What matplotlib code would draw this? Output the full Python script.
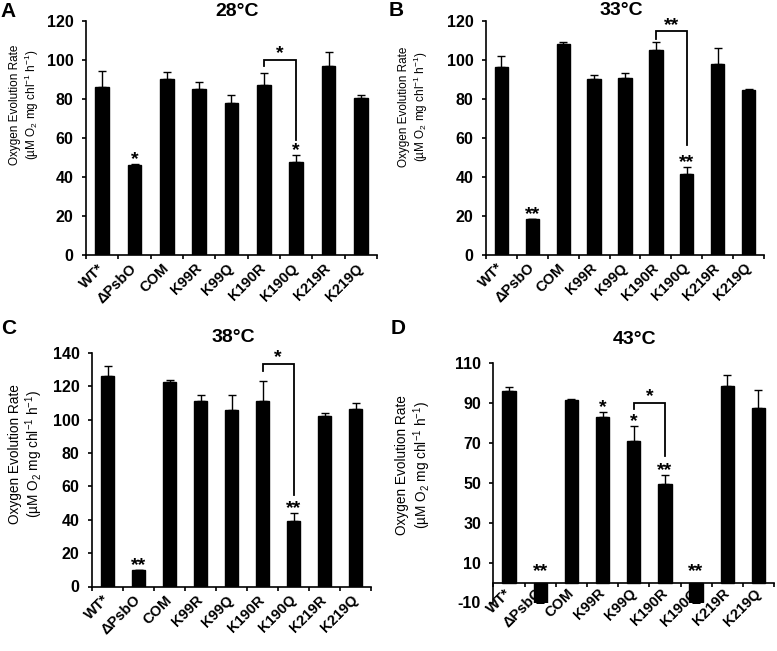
import matplotlib
matplotlib.use('Agg')
import matplotlib.pyplot as plt
import numpy as np

plt.rcParams['font.family'] = ['Liberation Sans', 'DejaVu Sans']
plt.rcParams['mathtext.fontset'] = 'custom'
plt.rcParams['mathtext.rm'] = 'Liberation Sans'
plt.rcParams['mathtext.it'] = 'Liberation Sans:italic'
plt.rcParams['mathtext.bf'] = 'Liberation Sans:bold'
plt.rcParams['axes.unicode_minus'] = False

# ---------------- data ----------------
categories = ['WT*', 'ΔPsbO', 'COM', 'K99R', 'K99Q', 'K190R', 'K190Q', 'K219R', 'K219Q']

titles = ['28°C', '33°C', '38°C', '43°C']
letters = ['A', 'B', 'C', 'D']

means_28 = [86.2, 46.1, 90.5, 85.0, 78.2, 87.1, 47.6, 97.0, 80.6]
err_28 = [8.2, 0.4, 3.4, 3.6, 3.7, 6.4, 3.8, 7.3, 1.3]
stars_28 = ['', '*', '', '', '', '', '*', '', '']
bracket_28 = (5, 6, 100.2, 96.8, 58.9, '*')

means_33 = [96.4, 18.0, 108.4, 90.4, 90.6, 104.9, 41.6, 98.1, 84.4]
err_33 = [5.5, 0.3, 0.8, 2.0, 2.6, 4.3, 3.4, 8.2, 0.8]
stars_33 = ['', '**', '', '', '', '', '**', '', '']
bracket_33 = (5, 6, 114.7, 110.9, 56.1, '**')

means_38 = [126.5, 9.7, 122.5, 111.5, 105.8, 111.5, 39.5, 102.2, 106.2]
err_38 = [5.7, 0.3, 1.4, 3.6, 9.3, 11.6, 4.4, 2.0, 3.6]
stars_38 = ['', '**', '', '', '', '', '**', '', '']
bracket_38 = (5, 6, 133.6, 129.5, 54.8, '*')

means_43 = [95.9, -10.3, 91.5, 82.8, 71.1, 49.4, -9.5, 98.4, 87.5]
err_43 = [2.0, 0.3, 0.3, 2.4, 7.2, 4.6, 0.8, 5.6, 9.2]
stars_43 = ['', '**', '', '*', '*', '**', '**', '', '']
bracket_43 = (4, 5, 90.0, 87.0, 63.6, '*')

ylims = [(0, 120), (0, 120), (0, 140), (-10, 110)]
ysteps = [20, 20, 20, 20]

all_means = [means_28, means_33, means_38, means_43]
all_errs = [err_28, err_33, err_38, err_43]
all_stars = [stars_28, stars_33, stars_38, stars_43]
all_brackets = [bracket_28, bracket_33, bracket_38, bracket_43]

# ---------------- layout ----------------
W, H = 777, 651
fig = plt.figure(figsize=(W / 100, H / 100), dpi=100)

def px_axes(l, t, r, b):
    return [l / W, 1 - b / H, (r - l) / W, (b - t) / H]

axes_px = [(86, 21, 377, 255), (486, 21, 764, 254.5),
           (92, 353, 371, 586.5), (493.5, 363, 774, 602.5)]
title_px = [(237, 11), (621, 10.5), (233, 337.5), (635, 340)]
letter_px = [(8.5, 11.5), (396.5, 10), (8.5, 329), (398.5, 329)]
ylab_px = [(25, 105, 8.5), (414, 107, 8.5), (26.5, 454, 9.8), (414, 465, 9.8)]

ylabel_text = 'Oxygen Evolution Rate\n(µM O$_2$ mg chl$^{-1}$ h$^{-1}$)'

x = np.arange(len(categories))

for k in range(4):
    ax = fig.add_axes(px_axes(*axes_px[k]))
    lo, hi = ylims[k]
    for s in ['top', 'right']:
        ax.spines[s].set_visible(False)
    for s in ['left', 'bottom']:
        ax.spines[s].set_linewidth(1.2)
    if lo < 0:
        ax.spines['bottom'].set_position(('data', 0))

    means = np.array(all_means[k])
    errs = np.array(all_errs[k])
    ax.bar(x, means, width=0.43, color='black', edgecolor='black', zorder=2)
    lower = np.where(means < 0, errs, 0)
    upper = np.where(means >= 0, errs, 0)
    ax.errorbar(x, means, yerr=[lower, upper], fmt='none', ecolor='black',
                elinewidth=1.0, capsize=3, capthick=1.0, zorder=3)

    ax.set_ylim(lo, hi)
    ax.set_xlim(-0.5, len(categories) - 0.5)
    ax.set_yticks(np.arange(lo, hi + 1, ysteps[k]))
    ax.tick_params(axis='y', length=3, width=1.2, pad=6, labelsize=11.5)
    for lbl in ax.get_yticklabels():
        lbl.set_fontweight('bold')

    ax.set_xticks(x)
    ax.set_xticks(np.arange(len(categories) + 1) - 0.5, minor=True)
    ax.set_xticklabels(categories, rotation=45, ha='right', va='center',
                       rotation_mode='anchor', fontweight='bold', fontsize=10.5)
    ax.tick_params(axis='x', which='major', length=0, pad=6 if lo < 0 else 8)
    ax.tick_params(axis='x', which='minor', length=3.2, width=1.2, direction='out')

    # significance stars
    for i, st in enumerate(all_stars[k]):
        if st:
            top = means[i] + errs[i] if means[i] >= 0 else 0
            off = 0 if means[i] >= 0 else 5
            ax.annotate(st, (x[i], top), xytext=(0, off), textcoords='offset points',
                        ha='center', va='baseline', fontsize=14, fontweight='bold')

    # bracket
    i0, i1, ytop, yl, yr, lab = all_brackets[k]
    ax.plot([x[i0], x[i0], x[i1], x[i1]], [yl, ytop, ytop, yr], color='black',
            lw=1.3, zorder=4, solid_joinstyle='miter')
    ax.annotate(lab, ((x[i0] + x[i1]) / 2, ytop), xytext=(0, 1),
                textcoords='offset points', ha='center', va='baseline',
                fontsize=14, fontweight='bold')

    # titles, letters, y-labels
    tx, ty = title_px[k]
    fig.text(tx / W, 1 - ty / H, titles[k], ha='center', va='center',
             fontsize=14, fontweight='bold')
    lx, ly = letter_px[k]
    fig.text(lx / W, 1 - ly / H, letters[k], ha='center', va='center',
             fontsize=15, fontweight='bold')
    yx, yy, fs = ylab_px[k]
    fig.text(yx / W, 1 - yy / H, ylabel_text, rotation=90, ha='center', va='center',
             multialignment='center', fontsize=fs, linespacing=1.15)

fig.savefig('out.png', dpi=100, facecolor='white')
